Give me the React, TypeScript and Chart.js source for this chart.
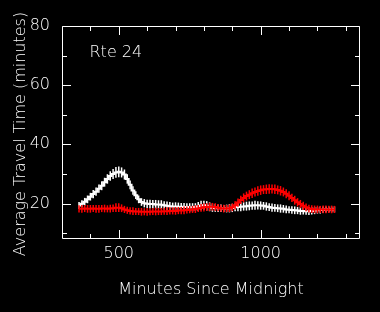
import React, { useEffect, useRef } from 'react';
import { Chart, registerables } from 'chart.js';

Chart.register(...registerables);

const minutes = [
  360, 370, 380, 390, 400, 410, 420, 430, 440, 450,
  460, 470, 480, 490, 500, 510, 520, 530, 540, 550,
  560, 570, 580, 590, 600, 610, 620, 630, 640, 650,
  660, 670, 680, 690, 700, 710, 720, 730, 740, 750,
  760, 770, 780, 790, 800, 810, 820, 830, 840, 850,
  860, 870, 880, 890, 900, 910, 920, 930, 940, 950,
  960, 970, 980, 990, 1000, 1010, 1020, 1030, 1040, 1050,
  1060, 1070, 1080, 1090, 1100, 1110, 1120, 1130, 1140, 1150,
  1160, 1170, 1180, 1190, 1200, 1210, 1220, 1230, 1240, 1250,
  1260,
];

const whiteTimes = [
  19.3, 19.9, 20.6, 21.4, 22.3, 23.2, 24.0, 25.0, 26.0, 27.2,
  28.3, 29.3, 30.0, 30.5, 30.7, 30.5, 29.8, 28.3, 26.3, 24.4,
  22.8, 21.4, 20.5, 20.1, 19.9, 19.8, 19.8, 19.7, 19.7, 19.6,
  19.4, 19.2, 19.1, 19.0, 19.0, 18.9, 18.9, 18.8, 18.8, 18.7,
  18.7, 18.8, 19.0, 19.3, 19.4, 19.2, 18.9, 18.6, 18.5, 18.4,
  18.4, 18.3, 18.3, 18.4, 18.5, 18.7, 18.8, 18.9, 19.0, 19.1,
  19.2, 19.3, 19.4, 19.4, 19.3, 19.2, 19.0, 18.8, 18.6, 18.5,
  18.4, 18.3, 18.2, 18.0, 17.9, 17.8, 17.7, 17.6, 17.5, 17.5,
  17.4, 17.4, 17.5, 17.6, 17.7, 17.8, 17.9, 18.0, 18.0, 18.0,
  18.0,
];

const whiteErrors = [
  1.2, 1.2, 1.3, 1.3, 1.3, 1.4, 1.4, 1.4, 1.5, 1.5,
  1.6, 1.6, 1.7, 1.8, 1.8, 1.7, 1.7, 1.6, 1.5, 1.4,
  1.3, 1.3, 1.3, 1.4, 1.4, 1.5, 1.4, 1.5, 1.4, 1.5,
  1.4, 1.5, 1.4, 1.3, 1.4, 1.4, 1.3, 1.4, 1.3, 1.4,
  1.4, 1.3, 1.5, 1.6, 1.5, 1.6, 1.5, 1.4, 1.3, 1.3,
  1.3, 1.2, 1.3, 1.4, 1.4, 1.3, 1.4, 1.5, 1.4, 1.5,
  1.5, 1.4, 1.5, 1.4, 1.4, 1.3, 1.4, 1.3, 1.4, 1.3,
  1.3, 1.4, 1.3, 1.3, 1.2, 1.3, 1.3, 1.2, 1.3, 1.2,
  1.2, 1.3, 1.2, 1.2, 1.1, 1.2, 1.1, 1.0, 1.0, 1.0,
  1.0,
];

const redTimes = [
  18.2, 18.2, 18.3, 18.2, 18.2, 18.3, 18.2, 18.2, 18.3, 18.3,
  18.2, 18.3, 18.4, 18.6, 18.6, 18.4, 18.0, 17.7, 17.5, 17.4,
  17.3, 17.3, 17.2, 17.2, 17.2, 17.2, 17.3, 17.3, 17.3, 17.3,
  17.4, 17.4, 17.5, 17.5, 17.5, 17.6, 17.6, 17.7, 17.8, 17.9,
  18.0, 18.1, 18.3, 18.5, 18.7, 18.8, 18.9, 18.9, 18.8, 18.6,
  18.4, 18.3, 18.3, 18.4, 18.7, 19.4, 20.3, 21.2, 21.9, 22.5,
  23.0, 23.5, 23.9, 24.2, 24.5, 24.7, 24.8, 24.9, 24.9, 24.8,
  24.6, 24.3, 23.9, 23.3, 22.6, 21.9, 21.1, 20.4, 19.8, 19.2,
  18.7, 18.3, 18.1, 18.0, 18.0, 18.0, 18.0, 18.0, 18.0, 18.0,
  18.0,
];

const redErrors = [
  1.2, 1.3, 1.2, 1.3, 1.3, 1.2, 1.3, 1.3, 1.2, 1.3,
  1.2, 1.3, 1.3, 1.5, 1.5, 1.3, 1.2, 1.2, 1.2, 1.3,
  1.2, 1.2, 1.3, 1.2, 1.3, 1.2, 1.2, 1.3, 1.2, 1.2,
  1.2, 1.3, 1.2, 1.2, 1.3, 1.2, 1.2, 1.3, 1.2, 1.2,
  1.2, 1.3, 1.2, 1.3, 1.4, 1.3, 1.4, 1.3, 1.3, 1.2,
  1.2, 1.3, 1.2, 1.3, 1.3, 1.4, 1.4, 1.4, 1.5, 1.5,
  1.5, 1.6, 1.5, 1.6, 1.6, 1.5, 1.6, 1.6, 1.5, 1.6,
  1.5, 1.6, 1.5, 1.5, 1.5, 1.4, 1.5, 1.4, 1.4, 1.4,
  1.3, 1.3, 1.3, 1.3, 1.3, 1.2, 1.3, 1.3, 1.2, 1.3,
  1.2,
];

const xTickLabels = [500, 1000];
const xMinorTicks = [400, 600, 700, 800, 900, 1100, 1200, 1300];
const yTickLabels = [20, 40, 60, 80];
const yMinorTicks = [10, 30, 50, 70];

const xTitle = 'Minutes Since Midnight';
const yTitle = 'Average Travel Time (minutes)';
const routeLabel = 'Rte 24';

const FONT = '"DejaVu Sans"';
const WEIGHT = 200;

export default function App() {
  const ref = useRef<HTMLCanvasElement>(null);

  useEffect(() => {
    document.body.style.margin = '0';
    document.body.style.background = '#000';
    const canvas = ref.current;
    if (!canvas) return;

    const bgPlugin = {
      id: 'bg',
      beforeDraw(chart: any) {
        const c = chart.ctx;
        c.save();
        c.fillStyle = '#000';
        c.fillRect(0, 0, chart.width, chart.height);
        c.restore();
      },
    };

    const errorPlugin = {
      id: 'errbars',
      afterDatasetDraw(chart: any, args: any) {
        const ds = chart.data.datasets[args.index] as any;
        const errs: number[] = ds.errors;
        if (!errs) return;
        const xs = chart.scales.x;
        const ys = chart.scales.y;
        const c = chart.ctx;
        const a = chart.chartArea;
        c.save();
        c.beginPath();
        c.rect(a.left, a.top, a.right - a.left, a.bottom - a.top);
        c.clip();
        c.strokeStyle = ds.borderColor;
        c.lineWidth = 1.5;
        ds.data.forEach((p: any, i: number) => {
          const px = xs.getPixelForValue(p.x);
          const y1 = ys.getPixelForValue(p.y - errs[i]);
          const y2 = ys.getPixelForValue(p.y + errs[i]);
          c.beginPath();
          c.moveTo(px, y1);
          c.lineTo(px, y2);
          c.stroke();
        });
        c.restore();
      },
    };

    const framePlugin = {
      id: 'frame',
      afterDraw(chart: any) {
        const c = chart.ctx;
        const a = chart.chartArea;
        const xs = chart.scales.x;
        const ys = chart.scales.y;
        c.save();
        c.strokeStyle = '#fff';
        c.lineWidth = 1;
        const L = a.left + 0.5;
        const R = a.right - 0.5;
        const T = a.top + 0.5;
        const B = a.bottom - 0.5;
        c.beginPath();
        c.moveTo(L, T);
        c.lineTo(R, T);
        c.lineTo(R, B);
        c.lineTo(L, B);
        c.closePath();
        c.stroke();
        const tick = (vals: number[], len: number) => {
          vals.forEach((v) => {
            const px = Math.round(xs.getPixelForValue(v)) + 0.5;
            c.beginPath();
            c.moveTo(px, B);
            c.lineTo(px, B - len);
            c.moveTo(px, T);
            c.lineTo(px, T + len);
            c.stroke();
          });
        };
        const ytick = (vals: number[], len: number) => {
          vals.forEach((v) => {
            const py = Math.round(ys.getPixelForValue(v)) + 0.5;
            c.beginPath();
            c.moveTo(L, py);
            c.lineTo(L + len, py);
            c.moveTo(R, py);
            c.lineTo(R - len, py);
            c.stroke();
          });
        };
        tick(xTickLabels, 8.5);
        tick(xMinorTicks, 4.5);
        ytick(yTickLabels, 8.5);
        ytick(yMinorTicks, 4.5);

        c.fillStyle = '#fff';
        c.font = `${WEIGHT} 16px ${FONT}`;
        c.textBaseline = 'alphabetic';
        c.textAlign = 'left';
        c.fillText(routeLabel, 89.5, 56.5);
        c.textAlign = 'center';
        c.fillText(xTitle, (a.left + a.right) / 2, 294);
        c.translate(25, 134);
        c.rotate(-Math.PI / 2);
        c.fillText(yTitle, 0, 0);
        c.restore();
      },
    };

    const chart = new Chart(canvas, {
      type: 'line',
      data: {
        datasets: [
          {
            label: 'red',
            data: minutes.map((m, i) => ({ x: m, y: redTimes[i] })),
            borderColor: '#ff0000',
            backgroundColor: '#ff0000',
            borderWidth: 2,
            pointRadius: 0,
            stepped: 'middle',
            fill: false,
            errors: redErrors,
          } as any,
          {
            label: 'white',
            data: minutes.map((m, i) => ({ x: m, y: whiteTimes[i] })),
            borderColor: '#ffffff',
            backgroundColor: '#ffffff',
            borderWidth: 2,
            pointRadius: 0,
            stepped: 'middle',
            fill: false,
            errors: whiteErrors,
          } as any,
        ],
      },
      options: {
        responsive: false,
        animation: false,
        layout: { padding: { left: 0, right: 20, top: 26, bottom: 0 } },
        plugins: {
          legend: { display: false },
          tooltip: { enabled: false },
        },
        scales: {
          x: {
            type: 'linear',
            min: 300,
            max: 1350,
            grid: { display: false, drawTicks: false },
            border: { display: false },
            ticks: {
              color: '#fff',
              font: { family: FONT, size: 16, weight: WEIGHT },
              padding: 5,
              maxRotation: 0,
              autoSkip: false,
              callback: (v: any) => String(v),
            },
            afterBuildTicks: (s: any) => {
              s.ticks = xTickLabels.map((v) => ({ value: v }));
            },
            afterFit: (s: any) => {
              s.height = 73;
            },
          },
          y: {
            type: 'linear',
            min: 8,
            max: 80,
            grid: { display: false, drawTicks: false },
            border: { display: false },
            ticks: {
              color: '#fff',
              font: { family: FONT, size: 16, weight: WEIGHT },
              padding: 12,
              autoSkip: false,
              callback: (v: any) => String(v),
            },
            afterBuildTicks: (s: any) => {
              s.ticks = yTickLabels.map((v) => ({ value: v }));
            },
            afterFit: (s: any) => {
              s.width = 62;
            },
          },
        },
      } as any,
      plugins: [bgPlugin, errorPlugin, framePlugin],
    });

    return () => chart.destroy();
  }, []);

  return (
    <div style={{ position: 'absolute', left: 0, top: 0, width: 380, height: 312, background: '#000' }}>
      <canvas ref={ref} width={380} height={312} style={{ width: 380, height: 312, display: 'block' }} />
    </div>
  );
}
